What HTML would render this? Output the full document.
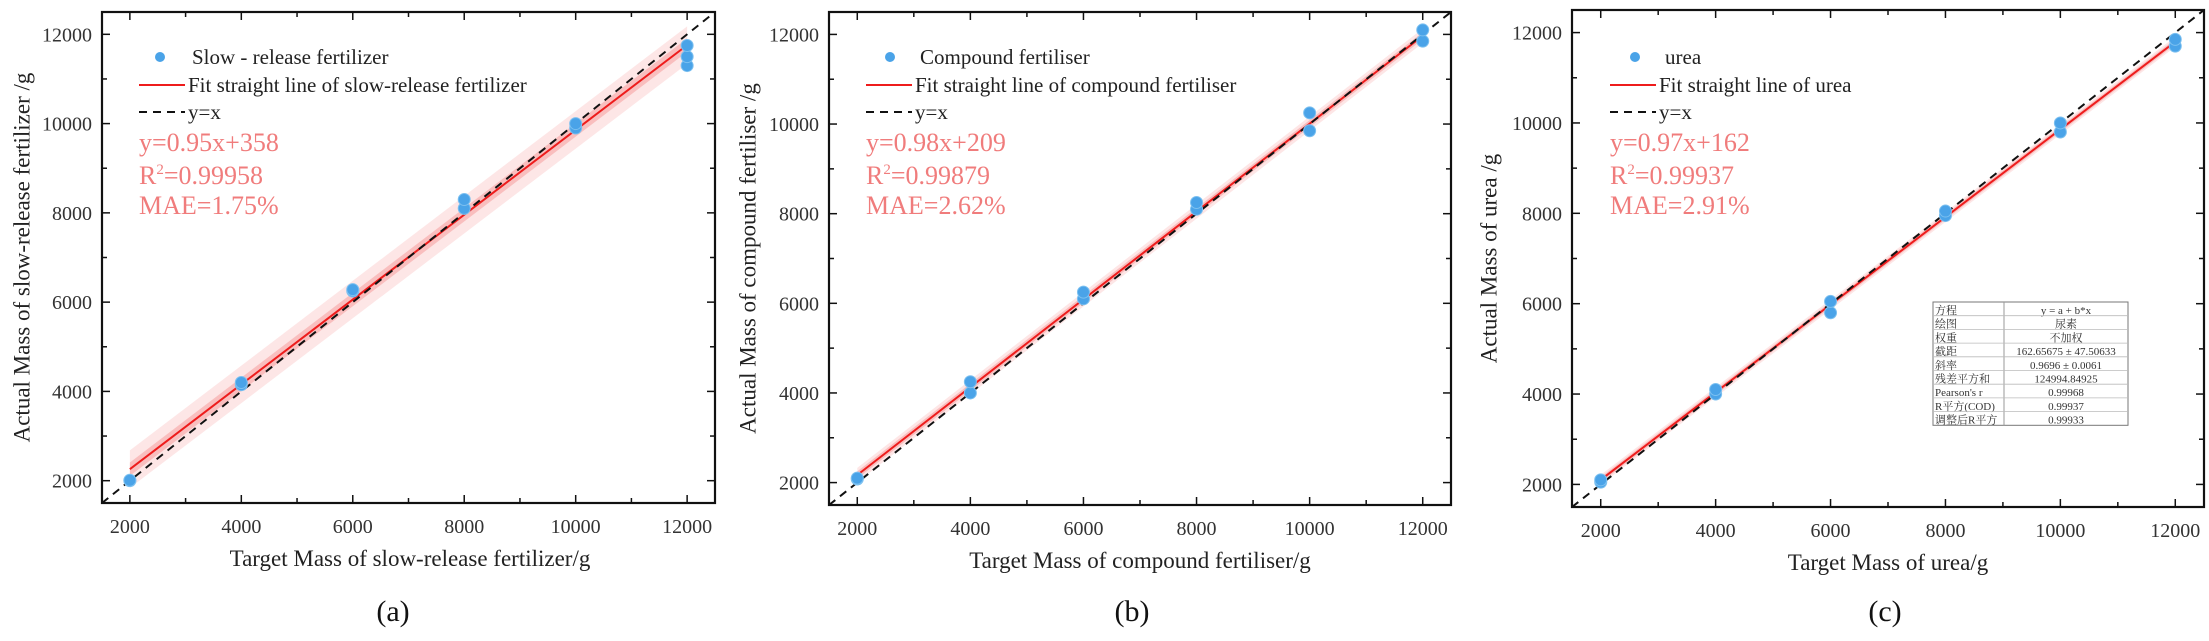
<!DOCTYPE html>
<html><head><meta charset="utf-8"><style>
html,body{margin:0;padding:0;background:#fff;width:2209px;height:641px;overflow:hidden}
svg text{font-family:"Liberation Serif","Noto Serif CJK SC",serif}
</style></head><body>
<svg id="fig" width="2209" height="641" viewBox="0 0 2209 641" xmlns="http://www.w3.org/2000/svg"></svg>
<script>
// ---- data ----
const xTicks = [2000,4000,6000,8000,10000,12000];
const yTicks = [2000,4000,6000,8000,10000,12000];
const targetsA = [2000,2000,4000,4000,6000,6000,8000,8000,10000,10000,12000,12000,12000];
const actualA  = [2000,2010,4150,4200,6250,6280,8100,8300,9900,10000,11300,11500,11750];
const targetsB = [2000,2000,4000,4000,6000,6000,8000,8000,10000,10000,12000,12000];
const actualB  = [2080,2100,4000,4250,6100,6250,8100,8250,9850,10250,11850,12100];
const targetsC = [2000,2000,4000,4000,6000,6000,8000,8000,10000,10000,12000,12000];
const actualC  = [2050,2100,4000,4100,5800,6050,7950,8050,9800,10000,11700,11850];
const slopes = [0.95,0.98,0.9696];
const intercepts = [358,209,162];
const bandInner = [150,80,60];
const bandOuter = [420,160,110];

const NS="http://www.w3.org/2000/svg";
const svg=document.getElementById('fig');
function mk(tag,attrs,parent){const e=document.createElementNS(NS,tag);for(const k in attrs)e.setAttribute(k,attrs[k]);(parent||svg).appendChild(e);return e;}

const panels=[
 {id:'a',L:102,R:715,T:12,B:503,tx:targetsA,ty:actualA,
  ytitle:'Actual  Mass of slow-release fertilizer /g',ytx:24,xtitle:'Target Mass of slow-release fertilizer/g',xtx:410,
  leg:['Slow - release fertilizer','Fit straight line of slow-release fertilizer','y=x'],lx:139,mx:160,tx0:192,
  stats:['y=0.95x+358','0.99958','MAE=1.75%'],lab:'(a)',labx:393},
 {id:'b',L:829,R:1451,T:12,B:505,tx:targetsB,ty:actualB,
  ytitle:'Actual Mass of compound fertiliser /g',ytx:750,xtitle:'Target Mass of compound fertiliser/g',xtx:1140,
  leg:['Compound fertiliser','Fit straight line of compound fertiliser','y=x'],lx:866,mx:890,tx0:920,
  stats:['y=0.98x+209','0.99879','MAE=2.62%'],lab:'(b)',labx:1132},
 {id:'c',L:1572,R:2204,T:10,B:507,tx:targetsC,ty:actualC,
  ytitle:'Actual Mass of urea /g',ytx:1491,xtitle:'Target Mass of urea/g',xtx:1888,
  leg:['urea','Fit straight line of urea','y=x'],lx:1610,mx:1635,tx0:1665,
  stats:['y=0.97x+162','0.99937','MAE=2.91%'],lab:'(c)',labx:1885}
];

panels.forEach((p,i)=>{
 const g=mk('g',{});
 
 
 const xs=v=>p.L+(v-1500)/11000*(p.R-p.L);
 const ys=v=>p.B-(v-1500)/11000*(p.B-p.T);
 const clip=mk('clipPath',{id:'clip'+p.id},g);
 mk('rect',{x:p.L,y:p.T,width:p.R-p.L,height:p.B-p.T},clip);
 const pg=mk('g',{'clip-path':'url(#clip'+p.id+')'},g);
 const m=slopes[i],c=intercepts[i];
 const f=x=>m*x+c;
 [[bandOuter[i],'#fde0e0'],[bandInner[i],'#f8b4b4']].forEach(([w,col],k)=>{
  const b=mk('polygon',{points:`${xs(2000)},${ys(f(2000)+w)} ${xs(12000)},${ys(f(12000)+w)} ${xs(12000)},${ys(f(12000)-w)} ${xs(2000)},${ys(f(2000)-w)}`,fill:col,opacity:0.8},pg);
  
  
 });
 const fit=mk('line',{x1:xs(2000),y1:ys(f(2000)),x2:xs(12000),y2:ys(f(12000)),stroke:'#ee1c1c','stroke-width':2},pg);
 
 
 const idl=mk('line',{x1:xs(1500),y1:ys(1500),x2:xs(12500),y2:ys(12500),stroke:'#111','stroke-width':2,'stroke-dasharray':'8,6'},pg);
 
 
 p.tx.forEach((t,k)=>{
  const d=mk('circle',{cx:xs(t),cy:ys(p.ty[k]),r:6,fill:'#4aa3e8',stroke:'#7cc0f0','stroke-width':1},pg);
  
  
 });
 const fr=mk('rect',{x:p.L,y:p.T,width:p.R-p.L,height:p.B-p.T,fill:'none',stroke:'#111','stroke-width':2.2},g);
 
 
 for(let v=2000;v<=12000;v+=1000){
  const len=v%2000===0?8:5;
  const X=xs(v),Y=ys(v);
  mk('line',{x1:X,y1:p.B,x2:X,y2:p.B-len,stroke:'#111','stroke-width':1.5},g);
  mk('line',{x1:X,y1:p.T,x2:X,y2:p.T+len,stroke:'#111','stroke-width':1.5},g);
  mk('line',{x1:p.L,y1:Y,x2:p.L+len,y2:Y,stroke:'#111','stroke-width':1.5},g);
  mk('line',{x1:p.R,y1:Y,x2:p.R-len,y2:Y,stroke:'#111','stroke-width':1.5},g);
 }
 xTicks.forEach(v=>{
  const t=mk('text',{x:xs(v),y:p.B+30,'text-anchor':'middle','font-size':20,fill:'#333'},g);t.textContent=v;
  
  
 });
 yTicks.forEach(v=>{
  const t=mk('text',{x:p.L-10,y:ys(v)+7,'text-anchor':'end','font-size':20,fill:'#333'},g);t.textContent=v;
  
  
 });
 const cy=(p.T+p.B)/2;
 const yt=mk('text',{x:p.ytx,y:cy,'text-anchor':'middle','font-size':23,fill:'#222',transform:`rotate(-90 ${p.ytx} ${cy})`,'dominant-baseline':'middle'},g);
 yt.textContent=p.ytitle;
 
 
 const xt=mk('text',{x:p.xtx,y:p.B+63,'text-anchor':'middle','font-size':23,fill:'#222'},g);
 xt.textContent=p.xtitle;
 
 
 const lb=mk('text',{x:p.labx,y:621,'text-anchor':'middle','font-size':30,fill:'#111'},g);
 lb.textContent=p.lab;
 
 
 const lg=mk('g',{},g);
 
 
 mk('circle',{cx:p.mx,cy:57,r:5,fill:'#4aa3e8'},lg);
 let t=mk('text',{x:p.tx0,y:64,'font-size':21,fill:'#222'},lg);t.textContent=p.leg[0];
 mk('line',{x1:p.lx,y1:85,x2:p.lx+46,y2:85,stroke:'#ee1c1c','stroke-width':2},lg);
 t=mk('text',{x:p.lx+49,y:92,'font-size':21,fill:'#222'},lg);t.textContent=p.leg[1];
 mk('line',{x1:p.lx,y1:112,x2:p.lx+46,y2:112,stroke:'#111','stroke-width':2,'stroke-dasharray':'8,6'},lg);
 t=mk('text',{x:p.lx+49,y:119,'font-size':21,fill:'#222'},lg);t.textContent=p.leg[2];
 const st=mk('g',{fill:'#f07c7c','font-size':26},g);
 
 
 t=mk('text',{x:p.lx,y:151},st);t.textContent=p.stats[0];
 t=mk('text',{x:p.lx,y:184},st);t.innerHTML='R<tspan dy="-10" font-size="15">2</tspan><tspan dy="10">='+p.stats[1]+'</tspan>';
 t=mk('text',{x:p.lx,y:214},st);t.textContent=p.stats[2];
});

const tblRows=[['方程','y = a + b*x'],['绘图','尿素'],['权重','不加权'],['截距','162.65675 ± 47.50633'],['斜率','0.9696 ± 0.0061'],['残差平方和','124994.84925'],["Pearson's r",'0.99968'],['R平方(COD)','0.99937'],['调整后R平方','0.99933']];
const tg=mk('g',{});


const TX=1933,TY=302,TW=195,RH=13.7,CX=2004;
mk('rect',{x:TX,y:TY,width:TW,height:RH*9,fill:'#fff',stroke:'#777','stroke-width':1},tg);
mk('line',{x1:CX,y1:TY,x2:CX,y2:TY+RH*9,stroke:'#999','stroke-width':1},tg);
tblRows.forEach((r,k)=>{
 if(k>0)mk('line',{x1:TX,y1:TY+RH*k,x2:TX+TW,y2:TY+RH*k,stroke:'#bbb','stroke-width':0.8},tg);
 let t=mk('text',{x:TX+2,y:TY+RH*k+12,'font-size':11,fill:'#333'},tg);t.textContent=r[0];
 t.setAttribute('font-family','"Liberation Sans","Noto Sans CJK SC",sans-serif');
 t=mk('text',{x:(CX+TX+TW)/2,y:TY+RH*k+12,'font-size':11,fill:'#333','text-anchor':'middle'},tg);t.textContent=r[1];
 t.setAttribute('font-family','"Liberation Sans","Noto Sans CJK SC",sans-serif');
});
</script>
</body></html>
